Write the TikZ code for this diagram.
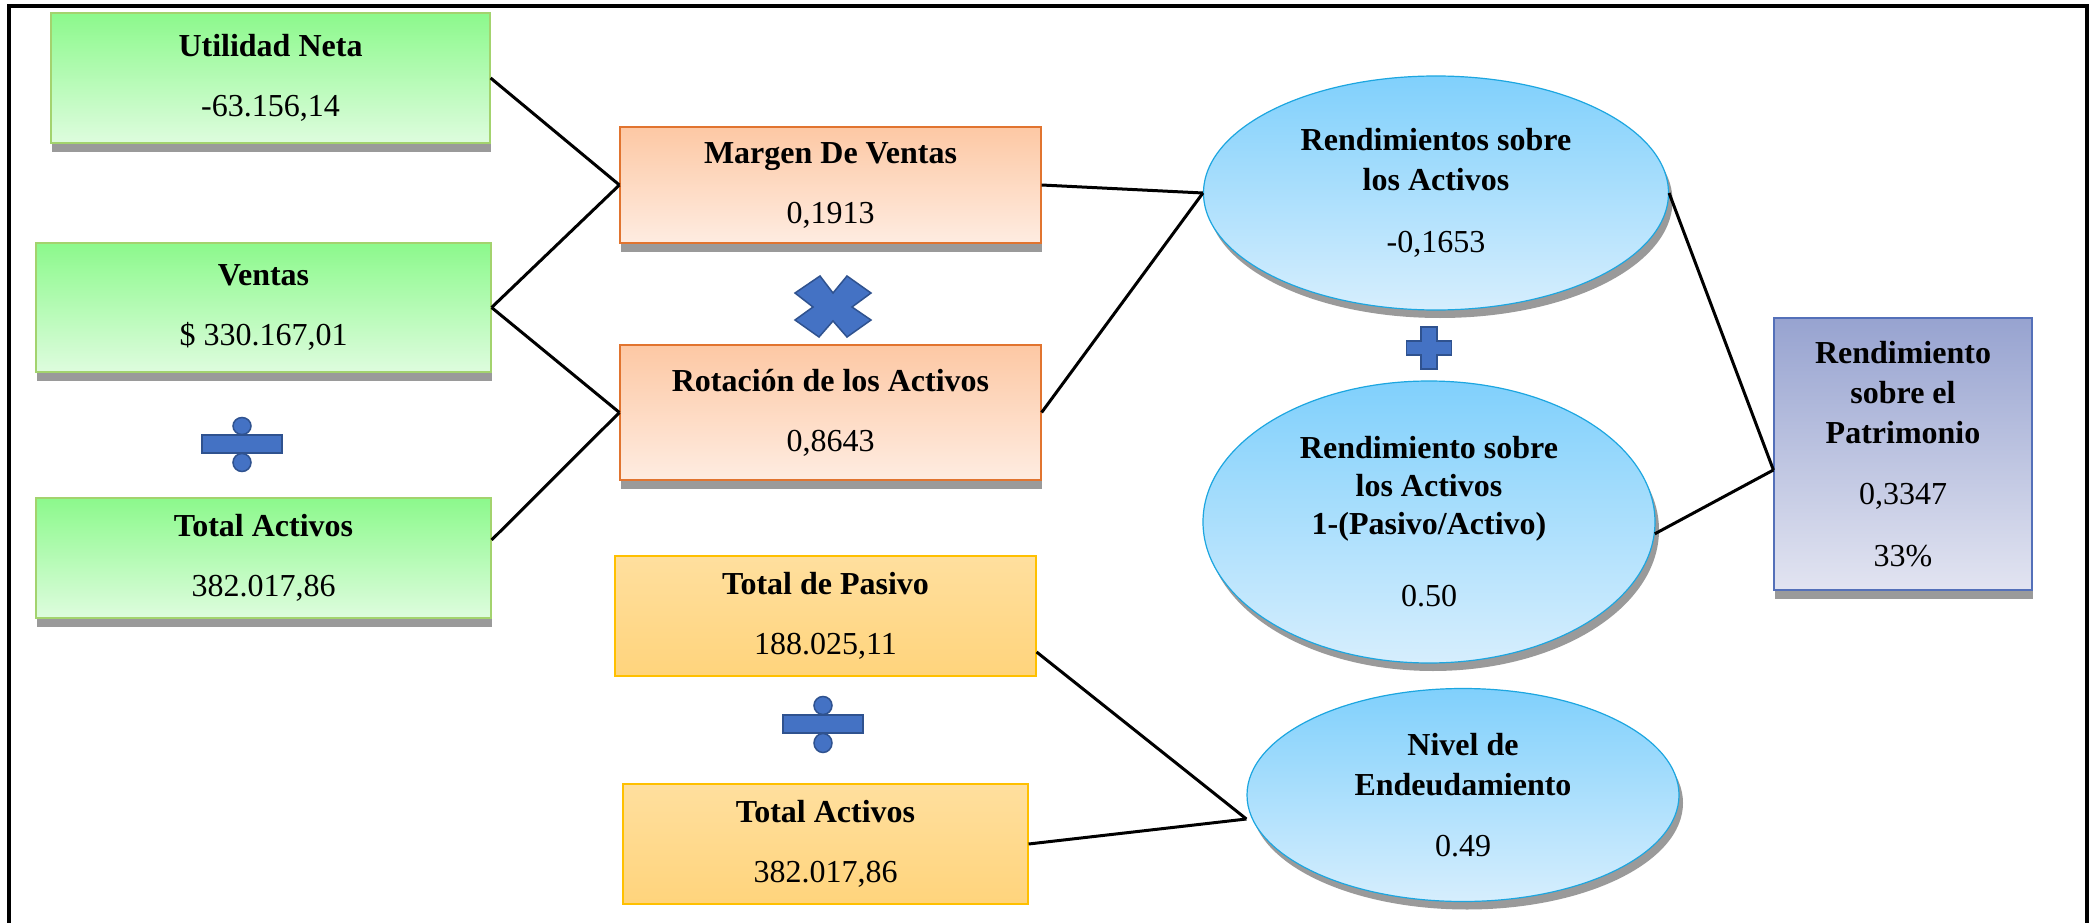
\documentclass[tikz,border=0pt]{standalone}
\usepackage{fontspec}
\setmainfont{Liberation Serif}
\usetikzlibrary{shapes.geometric,shadows}
\definecolor{greentop}{HTML}{8CF98C}
\definecolor{greenbot}{HTML}{DEFCDE}
\definecolor{greenedge}{HTML}{A3D36E}
\definecolor{orangetop}{HTML}{FDC8A4}
\definecolor{orangebot}{HTML}{FEECE1}
\definecolor{orangeedge}{HTML}{E1742F}
\definecolor{yellowtop}{HTML}{FFDF9E}
\definecolor{yellowbot}{HTML}{FFD47C}
\definecolor{yellowedge}{HTML}{FFC000}
\definecolor{bluetop}{HTML}{80D0FC}
\definecolor{bluebot}{HTML}{D6EEFD}
\definecolor{blueedge}{HTML}{1CA6E0}
\definecolor{purptop}{HTML}{97A3D0}
\definecolor{purpbot}{HTML}{E2E4F1}
\definecolor{purpedge}{HTML}{5470B9}
\definecolor{symfill}{HTML}{4472C4}
\definecolor{symedge}{HTML}{2F528F}
\definecolor{shadowgray}{HTML}{9A9A9A}
\begin{document}
\begin{tikzpicture}[x=1pt,y=-1pt,
  box/.style={draw, line width=1.2pt, inner sep=0pt, align=center,
    font=\fontsize{32}{40}\selectfont},
  shad/.style={drop shadow={shadow xshift=1pt, shadow yshift=-9pt, fill=shadowgray, opacity=1}},
  gbox/.style={box, shad, draw=greenedge, top color=greentop, bottom color=greenbot},
  obox/.style={box, shad, draw=orangeedge, top color=orangetop, bottom color=orangebot},
  ybox/.style={box, draw=yellowedge, top color=yellowtop, bottom color=yellowbot},
  pbox/.style={box, shad, draw=purpedge, top color=purptop, bottom color=purpbot},
  ell/.style={ellipse, draw=blueedge, line width=1.2pt, inner sep=0pt, align=center,
    font=\fontsize{32}{40}\selectfont, top color=bluetop, bottom color=bluebot,
    drop shadow={shadow xshift=4pt, shadow yshift=-8pt, fill=shadowgray, opacity=1}},
  sym/.style={fill=symfill, draw=symedge, line width=1.5pt},
  conn/.style={line width=3pt, black}
]
\useasboundingbox (0,0) rectangle (2097,923);
\fill[white] (0,0) rectangle (2097,923);
\draw[line width=3.5pt] (9,923) -- (9,6) -- (2087,6) -- (2087,923);

% left column
\node[gbox, minimum width=439pt, minimum height=130pt] (un) at (270.5,78)
  {\textbf{Utilidad Neta}\\[20pt]-63.156,14};
\node[gbox, minimum width=455pt, minimum height=129pt] (ve) at (263.5,307.5)
  {\textbf{Ventas}\\[20pt]\$ 330.167,01};
\node[gbox, minimum width=455pt, minimum height=120pt] (ta) at (263.5,558)
  {\textbf{Total Activos}\\[20pt]382.017,86};

% middle column
\node[obox, minimum width=421pt, minimum height=116pt] (mv) at (830.5,185)
  {\textbf{Margen De Ventas}\\[20pt]0,1913};
\node[obox, minimum width=421pt, minimum height=135pt] (ra) at (830.5,412.5)
  {\textbf{Rotación de los Activos}\\[20pt]0,8643};
\node[ybox, minimum width=421pt, minimum height=120pt] (tp) at (825.5,616)
  {\textbf{Total de Pasivo}\\[20pt]188.025,11};
\node[ybox, minimum width=405pt, minimum height=120pt] (ty) at (825.5,844)
  {\textbf{Total Activos}\\[20pt]382.017,86};

% ellipses
\node[ell, minimum width=465pt, minimum height=234pt] (e1) at (1436,193)
  {\textbf{Rendimientos sobre}\\\textbf{los Activos}\\[22pt]-0,1653};
\node[ell, minimum width=452pt, minimum height=282pt, font=\fontsize{32}{38}\selectfont] (e2) at (1429,522)
  {\textbf{Rendimiento sobre}\\\textbf{los Activos}\\\textbf{1-(Pasivo/Activo)}\\[34pt]0.50};
\node[ell, minimum width=432pt, minimum height=213pt] (e3) at (1463,795)
  {\textbf{Nivel de}\\\textbf{Endeudamiento}\\[21pt]0.49};

% result
\node[pbox, minimum width=258pt, minimum height=272pt] (pr) at (1903,454)
  {\textbf{Rendimiento}\\\textbf{sobre el}\\\textbf{Patrimonio}\\[21pt]0,3347\\[22pt]33\%};

% symbols
\begin{scope}[shift={(242,444)}]
  \filldraw[sym] (-40,-9) rectangle (40,9);
  \filldraw[sym] (0,-18) ellipse [x radius=9, y radius=8.5];
  \filldraw[sym] (0,18.5) ellipse [x radius=9, y radius=9];
\end{scope}
\begin{scope}[shift={(823,724)}]
  \filldraw[sym] (-40,-9) rectangle (40,9);
  \filldraw[sym] (0,-18.5) ellipse [x radius=9, y radius=9];
  \filldraw[sym] (0,19) ellipse [x radius=9, y radius=9.5];
\end{scope}
\begin{scope}[shift={(833,307)}]
  \filldraw[sym] (-38,-14) -- (-13,-31) -- (0,-14) -- (14,-31) -- (38,-14) -- (19,0)
    -- (38,13) -- (14,30) -- (0,14) -- (-14,30) -- (-38,13) -- (-20,0) -- cycle;
\end{scope}
\begin{scope}[shift={(1429,348)}]
  \filldraw[sym] (-8,-21) -- (8,-21) -- (8,-7) -- (22.5,-7) -- (22.5,7) -- (8,7)
    -- (8,21) -- (-8,21) -- (-8,7) -- (-22.5,7) -- (-22.5,-7) -- (-8,-7) -- cycle;
\end{scope}

% connectors
\draw[conn] (un.east) -- (mv.west);
\draw[conn] (ve.east) -- (mv.west);
\draw[conn] (ve.east) -- (ra.west);
\draw[conn] ([yshift=18pt]ta.east) -- (ra.west);
\draw[conn] (mv.east) -- (e1.west);
\draw[conn] (ra.east) -- (e1.west);
\draw[conn] (e1.east) -- ([yshift=-16pt]pr.west);
\draw[conn] (e2.-3) -- ([yshift=-16pt]pr.west);
\draw[conn] ([yshift=-36pt]tp.east) -- ([yshift=-24pt]e3.west);
\draw[conn] (ty.east) -- ([yshift=-24pt]e3.west);
\end{tikzpicture}
\end{document}
